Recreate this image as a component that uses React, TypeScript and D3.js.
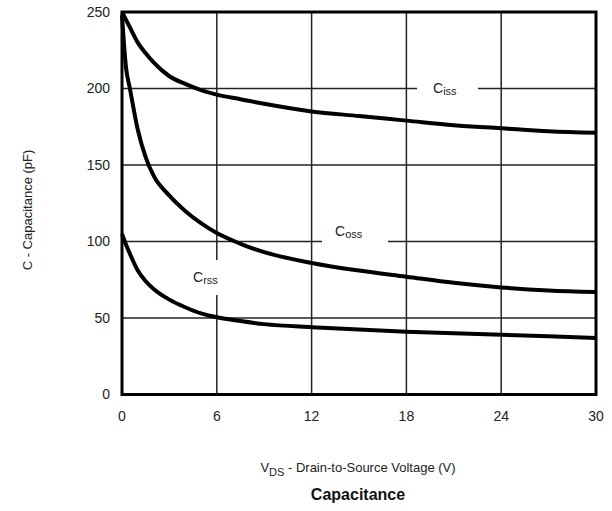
import React from 'react';
import * as d3 from 'd3';

// VDS sample points (V)
const vds = [0, 0.25, 0.5, 1, 1.5, 2, 3, 4, 5, 6, 7.5, 9, 12, 15, 18, 21, 24, 27, 30];
// capacitance curves (pF)
const ciss = [250, 245, 240, 230, 223, 217, 208, 203, 199, 196, 193, 190, 185, 182, 179, 176, 174, 172, 171];
const coss = [248, 214, 200, 173, 155, 143, 130, 120, 112, 105.5, 98.5, 93, 86, 81, 77, 73, 70, 68, 67];
const crss = [105, 98, 92, 81, 74, 69, 62, 57, 53, 50.5, 48, 46, 44, 42.5, 41, 40, 39, 38, 37];

const xTicks = [0, 6, 12, 18, 24, 30];
const yTicks = [0, 50, 100, 150, 200, 250];

const font = 'Liberation Sans, Arial, Helvetica, sans-serif';

const App = () => {
  const width = 612;
  const height = 511;
  const left = 122, right = 596, top = 12, bottom = 394.5;

  const x = d3.scaleLinear().domain([0, 30]).range([left, right]);
  const y = d3.scaleLinear().domain([0, 250]).range([bottom, top]);

  const line = d3.line<number>()
    .x((_, i) => x(vds[i]))
    .y(d => y(d))
    .curve(d3.curveMonotoneX);

  const series = [ciss, coss, crss];

  return (
    <svg width={width} height={height} style={{ position: 'absolute', left: 0, top: 0, background: '#fff' }}>
      {/* grid */}
      {yTicks.slice(1, -1).map(t => (
        <line key={'gy' + t} x1={left} x2={right} y1={y(t)} y2={y(t)} stroke="#222" strokeWidth={1.5} />
      ))}
      {xTicks.slice(1, -1).map(t => (
        <line key={'gx' + t} x1={x(t)} x2={x(t)} y1={top} y2={bottom} stroke="#222" strokeWidth={1.5} />
      ))}

      {/* label backgrounds cut the grid */}
      <rect x={417} y={78} width={61} height={20} fill="#fff" />
      <rect x={322} y={222} width={66} height={24} fill="#fff" />
      <rect x={200} y={260} width={36} height={35} fill="#fff" />

      {/* curves */}
      {series.map((s, i) => (
        <path key={i} d={line(s) || ''} fill="none" stroke="#000" strokeWidth={4} />
      ))}

      {/* frame */}
      <rect x={left} y={top} width={right - left} height={bottom - top} fill="none" stroke="#000" strokeWidth={3} />

      {/* tick labels */}
      {yTicks.map(t => (
        <text key={'ty' + t} x={110} y={y(t)} dy="0.35em" textAnchor="end" fontFamily={font} fontSize={14} fill="#222">{t}</text>
      ))}
      {xTicks.map(t => (
        <text key={'tx' + t} x={x(t)} y={421} textAnchor="middle" fontFamily={font} fontSize={14} fill="#222">{t}</text>
      ))}

      {/* curve labels */}
      <text x={433} y={93} fontFamily={font} fontSize={14} fill="#222">C<tspan fontSize={11} dy={2}>iss</tspan></text>
      <text x={335} y={236} fontFamily={font} fontSize={14} fill="#222">C<tspan fontSize={11} dy={2}>oss</tspan></text>
      <text x={193} y={282} fontFamily={font} fontSize={14} fill="#222">C<tspan fontSize={11} dy={2}>rss</tspan></text>

      {/* axis titles */}
      <text transform="translate(32,210) rotate(-90)" textAnchor="middle" fontFamily={font} fontSize={13} fill="#222">C - Capacitance (pF)</text>
      <text x={358} y={472} textAnchor="middle" fontFamily={font} fontSize={13} fill="#222">
        V<tspan fontSize={11} dy={4}>DS</tspan><tspan dy={-4}> - Drain-to-Source Voltage (V)</tspan>
      </text>
      <text x={358} y={500} textAnchor="middle" fontFamily={font} fontSize={16} fontWeight="bold" fill="#111">Capacitance</text>
    </svg>
  );
};

export default App;
